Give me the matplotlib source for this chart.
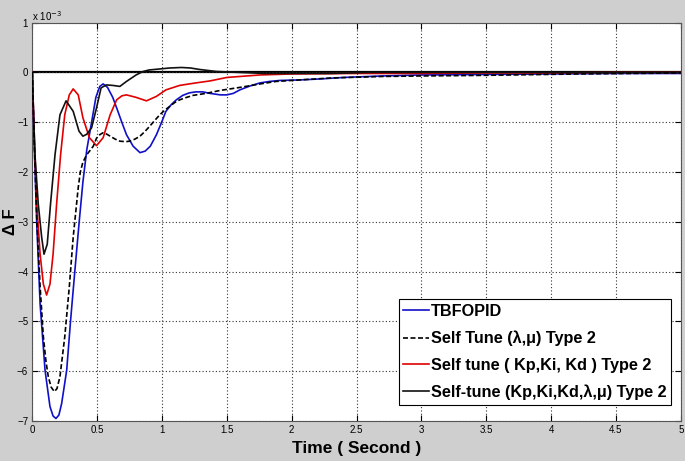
import matplotlib
matplotlib.use("Agg")
import matplotlib.pyplot as plt
from matplotlib import font_manager

# deviation of frequency, values in units of 1e-3
t_tbfopid = [0, 0.015, 0.035, 0.06, 0.098, 0.136, 0.16, 0.182, 0.205, 0.226, 0.265, 0.295,
             0.328, 0.362, 0.39, 0.42, 0.457, 0.49, 0.52, 0.546, 0.58, 0.62, 0.65, 0.69,
             0.726, 0.777, 0.83, 0.87, 0.91, 0.957, 1.0, 1.03, 1.07, 1.11, 1.16, 1.21,
             1.26, 1.315, 1.37, 1.45, 1.5, 1.55, 1.6, 1.68, 1.755, 1.83, 1.91, 2.06,
             2.22, 2.4, 2.7, 3.0, 3.5, 4.0, 4.5, 5.0]
y_tbfopid = [0, -1.5, -3.1, -4.65, -5.98, -6.71, -6.9, -6.95, -6.88, -6.65, -5.98, -4.98,
             -3.98, -2.98, -2.2, -1.55, -1.0, -0.5, -0.28, -0.23, -0.3, -0.5, -0.71, -1.0,
             -1.25, -1.48, -1.61, -1.58, -1.48, -1.25, -0.98, -0.78, -0.65, -0.55, -0.46, -0.41,
             -0.39, -0.39, -0.42, -0.45, -0.45, -0.42, -0.35, -0.27, -0.21, -0.18, -0.16, -0.15,
             -0.13, -0.1, -0.07, -0.05, -0.04, -0.03, -0.02, -0.02]

t_self_lm = [0, 0.015, 0.035, 0.06, 0.085, 0.105, 0.123, 0.145, 0.17, 0.19, 0.213, 0.25,
             0.285, 0.315, 0.354, 0.37, 0.39, 0.42, 0.45, 0.47, 0.495, 0.52, 0.546, 0.575,
             0.6, 0.64, 0.675, 0.72, 0.75, 0.79, 0.83, 0.87, 0.905, 0.945, 0.983, 1.02,
             1.06, 1.1, 1.136, 1.19, 1.24, 1.34, 1.45, 1.5, 1.6, 1.67, 1.78, 1.88,
             2.06, 2.31, 2.7, 3.0, 3.4, 3.7, 4.2, 5.0]
y_self_lm = [0, -1.4, -3.0, -4.3, -5.31, -5.8, -6.11, -6.32, -6.41, -6.35, -6.11, -5.31,
             -4.31, -3.31, -2.31, -2.0, -1.8, -1.65, -1.55, -1.48, -1.32, -1.25, -1.21, -1.24,
             -1.28, -1.34, -1.38, -1.39, -1.38, -1.34, -1.28, -1.18, -1.08, -0.96, -0.85, -0.76,
             -0.68, -0.6, -0.55, -0.5, -0.46, -0.42, -0.36, -0.34, -0.3, -0.27, -0.22, -0.18,
             -0.15, -0.11, -0.08, -0.07, -0.06, -0.05, -0.03, -0.01]

t_self_pid = [0, 0.01, 0.034, 0.06, 0.085, 0.11, 0.136, 0.16, 0.187, 0.218, 0.25, 0.285,
              0.315, 0.354, 0.39, 0.44, 0.495, 0.546, 0.6, 0.65, 0.69, 0.726, 0.8, 0.88,
              0.957, 1.03, 1.136, 1.26, 1.37, 1.5, 1.755, 2.0, 2.5, 3.0, 3.5, 4.0, 4.5, 5.0]
y_self_pid = [0, -0.9, -2.65, -3.65, -4.25, -4.47, -4.25, -3.65, -2.65, -1.65, -0.85, -0.45,
              -0.33, -0.45, -0.91, -1.31, -1.47, -1.31, -0.85, -0.55, -0.47, -0.45, -0.5, -0.57,
              -0.48, -0.35, -0.26, -0.21, -0.17, -0.1, -0.05, -0.03, -0.02, -0.02, -0.01, -0.01, 0, 0]

t_self_all = [0, 0.004, 0.02, 0.046, 0.072, 0.09, 0.115, 0.14, 0.175, 0.213, 0.26, 0.315,
              0.36, 0.39, 0.42, 0.457, 0.495, 0.53, 0.57, 0.62, 0.675, 0.726, 0.8, 0.854,
              0.9, 0.98, 1.06, 1.15, 1.22, 1.29, 1.42, 1.6, 1.8, 2.3, 2.6, 5.0]
y_self_all = [0, -0.4, -1.65, -2.65, -3.31, -3.65, -3.45, -2.65, -1.65, -0.85, -0.57, -0.78,
              -1.18, -1.28, -1.24, -1.11, -0.71, -0.31, -0.25, -0.26, -0.28, -0.18, -0.05, 0.02,
              0.05, 0.07, 0.09, 0.1, 0.09, 0.06, 0.02, 0, -0.02, -0.02, 0, 0]

labels = ["TBFOPID",
          "Self Tune (\u03bb,\u03bc) Type 2",
          "Self tune ( Kp,Ki, Kd ) Type 2",
          "Self-tune (Kp,Ki,Kd,\u03bb,\u03bc) Type 2"]
x_ticks = [0, 0.5, 1, 1.5, 2, 2.5, 3, 3.5, 4, 4.5, 5]
x_tick_labels = ["0", "0.5", "1", "1.5", "2", "2.5", "3", "3.5", "4", "4.5", "5"]
y_ticks = [1, 0, -1, -2, -3, -4, -5, -6, -7]
zero_level = 0

installed = {f.name for f in font_manager.fontManager.ttflist}
narrow = "Liberation Sans Narrow" if "Liberation Sans Narrow" in installed else "Liberation Sans"
plt.rcParams["font.family"] = [narrow, "DejaVu Sans"]

fig = plt.figure(figsize=(6.85, 4.61), dpi=100, facecolor="#cfcfcf")
ax = fig.add_axes([0.0472, 0.0868, 0.9466, 0.864])
ax.set_facecolor("white")

ax.axhline(zero_level, color="black", lw=1.6, zorder=1)
ax.plot(t_tbfopid, y_tbfopid, color="#1010c8", lw=1.2, label=labels[0], zorder=3)
ax.plot(t_self_lm, y_self_lm, color="black", lw=1.2, ls=(0, (3, 1.5)), label=labels[1], zorder=4)
ax.plot(t_self_pid, y_self_pid, color="#e00000", lw=1.2, label=labels[2], zorder=3)
ax.plot(t_self_all, y_self_all, color="#111111", lw=1.2, label=labels[3], zorder=3)

ax.set_xlim(0, 5)
ax.set_ylim(-7, 1)
ax.set_xticks(x_ticks)
ax.set_xticklabels(x_tick_labels)
ax.set_yticks(y_ticks)
ax.tick_params(direction="in", length=4, labelsize=7, top=True, right=True, pad=3)
ax.grid(True, color="#333333", ls=(0, (1, 2)), lw=0.8)
for sp in ax.spines.values():
    sp.set_color("#555555")
    sp.set_linewidth(0.8)

fig.text(0.047, 0.965, "x 10$^{-3}$", fontsize=7, ha="left", va="center")
ax.set_xlabel("Time ( Second )", fontsize=12.5, fontweight="bold", labelpad=4)
ax.set_ylabel("\u0394 F", fontsize=12, fontweight="bold", va="center")
ax.yaxis.set_label_coords(-0.034, 0.5)

leg = ax.legend(loc="lower right", bbox_to_anchor=(0.985, 0.04),
                prop={"weight": "bold", "size": 11.7}, frameon=True, fancybox=False,
                edgecolor="black", framealpha=1, handlelength=1.55, handletextpad=0.12,
                labelspacing=0.72, borderpad=0.3, borderaxespad=0)
leg.get_frame().set_linewidth(0.8)

fig.savefig("out.png", dpi=100, facecolor=fig.get_facecolor())
